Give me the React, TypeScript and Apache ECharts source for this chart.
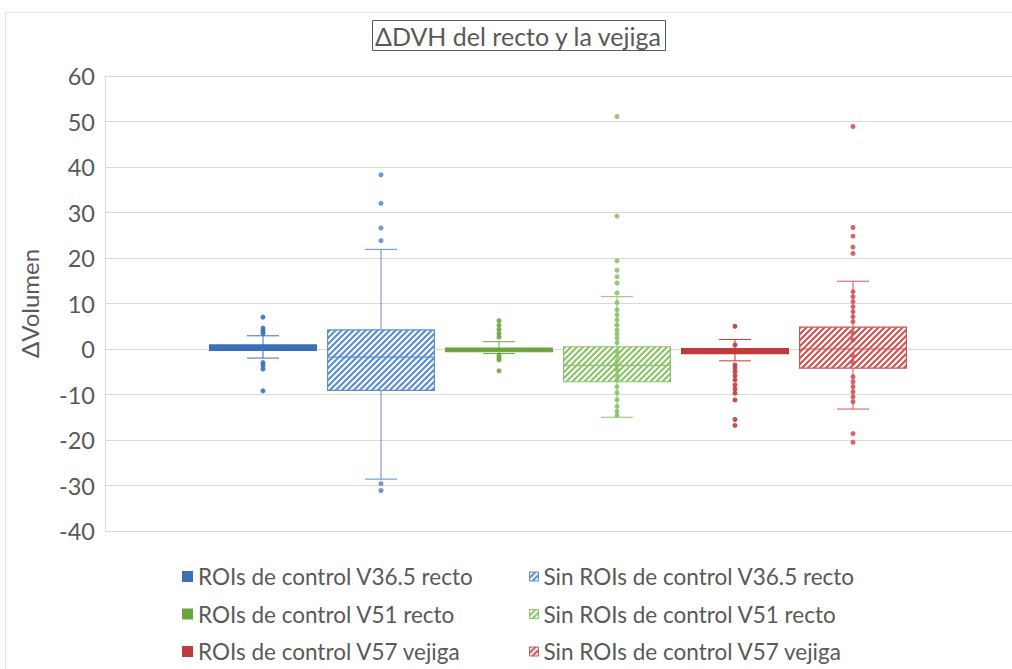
import React, { useEffect, useRef } from "react";
import * as echarts from "echarts";

// Six groups on the x axis, one per box
const categories = ["g1", "g2", "g3", "g4", "g5", "g6"];

const seriesNames = [
  "ROIs de control V36.5 recto",
  "Sin ROIs de control V36.5 recto",
  "ROIs de control V51 recto",
  "Sin ROIs de control V51 recto",
  "ROIs de control V57 vejiga",
  "Sin ROIs de control V57 vejiga",
];

const seriesColors = ["#3b6fb8", "#5b8ed4", "#6aa53f", "#8cc268", "#c23b3b", "#cf5656"];
const hatchedFlags = [false, true, false, true, false, true];

// [lower whisker, Q1, median, Q3, upper whisker]
const statsV365Con = [-2.0, -0.3, 0.3, 0.9, 2.9];
const statsV365Sin = [-28.6, -9.1, -1.8, 4.2, 21.9];
const statsV51Con = [-1.0, -0.6, -0.2, 0.2, 1.6];
const statsV51Sin = [-15.0, -7.2, -3.6, 0.5, 11.5];
const statsV57Con = [-2.6, -1.0, -0.5, 0.1, 2.1];
const statsV57Sin = [-13.2, -4.2, 0.0, 4.8, 14.9];

// Individual points drawn over each box (outliers and inner points)
const pointsV365Con = [7.0, 4.6, 4.0, 3.4, -3.0, -3.6, -4.4, -9.2];
const pointsV365Sin = [38.3, 32.0, 26.6, 23.8, -29.6, -31.1];
const pointsV51Con = [6.2, 5.2, 4.3, 3.4, 2.6, -1.4, -1.9, -2.4, -4.8];
const pointsV51Sin = [
  51.1, 29.2, 19.4, 17.3, 15.9, 14.5, 12.3, 10.2, 8.6, 7.5, 6.4, 5.3, 4.2, 3.3, 2.4, 1.4,
  -0.5, -1.5, -2.6, -3.6, -4.6, -5.8, -6.8, -8.3, -9.6, -11.2, -12.6, -13.7, -14.6,
];
const pointsV57Con = [5.0, 0.9, -3.5, -4.2, -5.0, -5.9, -6.8, -7.9, -8.8, -9.7, -11.2, -15.5, -16.8];
const pointsV57Sin = [
  48.9, 26.7, 24.8, 22.4, 21.0, 12.6, 11.5, 10.4, 9.3, 8.2, 7.1, 6.0, 3.5, 2.0, -1.5, -3.0,
  -6.1, -7.2, -8.3, -9.4, -10.5, -11.6, -18.6, -20.5,
];

const allStats = [statsV365Con, statsV365Sin, statsV51Con, statsV51Sin, statsV57Con, statsV57Sin];
const allPoints = [pointsV365Con, pointsV365Sin, pointsV51Con, pointsV51Sin, pointsV57Con, pointsV57Sin];

const yTicks = { min: -40, max: 60, interval: 10 };

const FONT = "Lato, 'Open Sans', sans-serif";
const TEXT = "#595959";

function makeHatch(color: string) {
  const s = 6;
  const c = document.createElement("canvas");
  c.width = s;
  c.height = s;
  const ctx = c.getContext("2d")!;
  ctx.fillStyle = "#ffffff";
  ctx.fillRect(0, 0, s, s);
  ctx.strokeStyle = color;
  ctx.lineWidth = 2.2;
  ctx.beginPath();
  ctx.moveTo(0, s);
  ctx.lineTo(s, 0);
  ctx.moveTo(-1, 1);
  ctx.lineTo(1, -1);
  ctx.moveTo(s - 1, s + 1);
  ctx.lineTo(s + 1, s - 1);
  ctx.stroke();
  return { image: c, repeat: "repeat" as const };
}

export default function App() {
  const ref = useRef<HTMLDivElement>(null);

  useEffect(() => {
    document.body.style.margin = "0";
    if (!ref.current) return;
    const chart = echarts.init(ref.current, undefined, { renderer: "svg" });

    const fills = seriesColors.map((c, i) => (hatchedFlags[i] ? makeHatch(c) : c));

    const boxSeries = seriesNames.map((name, i) => ({
      name,
      type: "custom",
      xAxisIndex: 1,
      yAxisIndex: 1,
      encode: { x: 0, y: [1, 2, 3, 4, 5] },
      data: [[i, ...allStats[i]]],
      z: 2,
      renderItem: (params: any, api: any) => {
        const x = api.value(0);
        const pLo = api.coord([x, api.value(1)]);
        const pQ1 = api.coord([x, api.value(2)]);
        const pMed = api.coord([x, api.value(3)]);
        const pQ3 = api.coord([x, api.value(4)]);
        const pHi = api.coord([x, api.value(5)]);
        const band = api.size([1, 0])[0];
        const bw = band * 0.905;
        const cw = 32;
        const cx = pMed[0];
        const color = seriesColors[i];
        const lineStyle = { stroke: color, lineWidth: 1 };
        return {
          type: "group",
          children: [
            { type: "line", shape: { x1: cx, y1: pHi[1], x2: cx, y2: pQ3[1] }, style: lineStyle },
            { type: "line", shape: { x1: cx, y1: pQ1[1], x2: cx, y2: pLo[1] }, style: lineStyle },
            { type: "line", shape: { x1: cx - cw / 2, y1: pHi[1], x2: cx + cw / 2, y2: pHi[1] }, style: lineStyle },
            { type: "line", shape: { x1: cx - cw / 2, y1: pLo[1], x2: cx + cw / 2, y2: pLo[1] }, style: lineStyle },
            {
              type: "rect",
              shape: { x: cx - bw / 2, y: pQ3[1], width: bw, height: pQ1[1] - pQ3[1] },
              style: { fill: fills[i], stroke: color, lineWidth: 1.2 },
            },
            {
              type: "line",
              shape: { x1: cx - bw / 2, y1: pMed[1], x2: cx + bw / 2, y2: pMed[1] },
              style: { stroke: color, lineWidth: 1.2 },
            },
          ],
        };
      },
    }));

    const pointSeries = seriesNames.map((name, i) => ({
      name,
      type: "scatter",
      xAxisIndex: 1,
      yAxisIndex: 1,
      symbol: "circle",
      symbolSize: 5,
      z: 3,
      itemStyle: { color: seriesColors[i], opacity: 0.9 },
      data: allPoints[i].map((v) => [i, v]),
    }));

    const legendItem = (i: number) => ({
      name: seriesNames[i],
      icon: "rect",
      itemStyle: { color: fills[i], borderColor: seriesColors[i], borderWidth: hatchedFlags[i] ? 1 : 0 },
    });

    const legendText = { fontFamily: FONT, fontSize: 22.5, color: TEXT, lineHeight: 22 };

    chart.setOption({
      animation: false,
      backgroundColor: "#ffffff",
      title: {
        text: "ΔDVH del recto y la vejiga",
        left: 372,
        top: 20,
        padding: [3, 3, 3, 3],
        borderColor: "#595959",
        borderWidth: 1,
        textStyle: { fontFamily: FONT, fontSize: 25, fontWeight: "normal", color: TEXT, lineHeight: 25 },
      },
      graphic: [
        {
          type: "rect",
          shape: { x: 5.5, y: 12.5, width: 1020, height: 700 },
          style: { fill: "none", stroke: "#e3e3e3", lineWidth: 1 },
          silent: true,
          z: -10,
        },
      ],
      legend: [
        {
          orient: "vertical",
          left: 182,
          top: 565,
          padding: 0,
          itemGap: 14.5,
          itemWidth: 11,
          itemHeight: 11,
          selectedMode: false,
          textStyle: legendText,
          data: [0, 2, 4].map(legendItem),
        },
        {
          orient: "vertical",
          left: 529,
          top: 565,
          padding: 0,
          itemGap: 14.5,
          itemWidth: 9,
          itemHeight: 9,
          selectedMode: false,
          textStyle: legendText,
          data: [1, 3, 5].map(legendItem),
        },
      ],
      grid: [
        { left: 105, right: 0, top: 76, bottom: 138 },
        { left: 204, right: 100, top: 76, bottom: 138 },
      ],
      xAxis: [
        {
          gridIndex: 0,
          type: "category",
          data: [""],
          axisLine: { show: false },
          axisTick: { show: false },
          axisLabel: { show: false },
        },
        {
          gridIndex: 1,
          type: "category",
          data: categories,
          axisLine: { show: false },
          axisTick: { show: false },
          axisLabel: { show: false },
        },
      ],
      yAxis: [
        {
          gridIndex: 0,
          type: "value",
          ...yTicks,
          name: "ΔVolumen",
          nameLocation: "middle",
          nameRotate: 90,
          nameGap: 64,
          nameTextStyle: { fontFamily: FONT, fontSize: 24, color: TEXT },
          axisLine: { show: true, lineStyle: { color: "#d9d9d9" } },
          axisTick: { show: false },
          axisLabel: { fontFamily: FONT, fontSize: 23.5, color: TEXT, margin: 10 },
          splitLine: { lineStyle: { color: "#d9d9d9", width: 1 } },
        },
        {
          gridIndex: 1,
          type: "value",
          ...yTicks,
          axisLine: { show: false },
          axisTick: { show: false },
          axisLabel: { show: false },
          splitLine: { show: false },
        },
      ],
      series: [...boxSeries, ...pointSeries],
    });

    return () => chart.dispose();
  }, []);

  return <div ref={ref} style={{ width: 1012, height: 669 }} />;
}
